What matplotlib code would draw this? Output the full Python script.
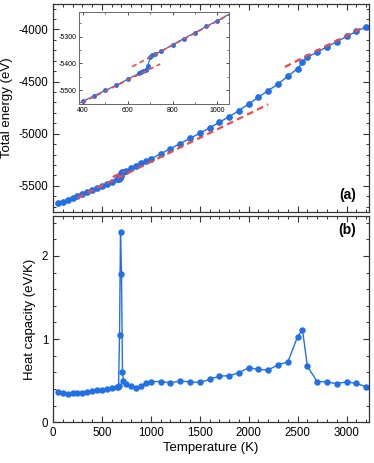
import numpy as np
import matplotlib.pyplot as plt
from matplotlib.ticker import MultipleLocator

plt.rcParams['font.family'] = ['Liberation Sans', 'DejaVu Sans']
plt.rcParams['axes.unicode_minus'] = False

# temperature grid (K)
temps = [50, 100, 150, 200, 250, 300, 350, 400, 450, 500, 550, 600, 650, 660, 670,
         680, 690, 700, 710, 720, 750, 800, 850, 900, 950, 1000, 1100, 1200, 1300,
         1400, 1500, 1600, 1700, 1800, 1900, 2000, 2100, 2200, 2300, 2400, 2500,
         2550, 2600, 2700, 2800, 2900, 3000, 3100, 3200]

# total energy (eV)
energy = [-5666, -5650, -5631, -5613, -5596, -5580, -5562, -5542, -5521, -5501,
          -5481, -5459, -5437, -5432, -5429, -5425, -5409, -5376, -5369, -5365,
          -5354, -5330, -5307, -5285, -5261, -5240, -5193, -5143, -5094, -5044,
          -4995, -4944, -4890, -4836, -4778, -4715, -4649, -4587, -4523, -4448,
          -4376, -4315, -4266, -4217, -4167, -4118, -4068, -4020, -3974]

# heat capacity (eV/K)
heat_cap = [0.366, 0.358, 0.346, 0.350, 0.354, 0.358, 0.366, 0.378, 0.390, 0.386,
            0.398, 0.418, 0.420, 0.430, 0.440, 1.046, 2.29, 1.787, 0.61, 0.50,
            0.46, 0.44, 0.41, 0.44, 0.47, 0.49, 0.49, 0.475, 0.495, 0.487,
            0.479, 0.515, 0.555, 0.56, 0.596, 0.656, 0.636, 0.628, 0.692, 0.724,
            1.03, 1.11, 0.672, 0.49, 0.487, 0.463, 0.487, 0.467, 0.427]

# linear fits (red dashed), main panel
fitA_T = [250, 2200]
fitA_E = [-5614, -4718]
fitB_T = [610, 735]
fitB_E = [-5414, -5360]
fitC_T = [2370, 3180]
fitC_E = [-4360, -3975]

# linear fits in the inset
inA_T = [395, 745]
inA_E = [-5547, -5402]
inB_T = [620, 1052]
inB_E = [-5412, -5218]

blue = '#2170e6'
red = '#f24848'

fig = plt.figure(figsize=(3.74, 4.63), dpi=100)
ax1 = fig.add_axes([0.1417, 0.5421, 0.845, 0.4503])
ax2 = fig.add_axes([0.1417, 0.0879, 0.845, 0.4456])

def style(ax, size):
    ax.tick_params(which='both', direction='in', top=True, right=True, labelsize=size,
                   color='#333333')
    ax.tick_params(which='major', length=4, width=0.8)
    ax.tick_params(which='minor', length=2.2, width=0.7)
    for s in ax.spines.values():
        s.set_color('#333333')
        s.set_linewidth(0.9)

# panel (a)
ax1.plot(fitA_T, fitA_E, '--', color=red, lw=1.6, dashes=(3, 2), zorder=3)
ax1.plot(fitB_T, fitB_E, '--', color=red, lw=1.6, dashes=(3, 2), zorder=3)
ax1.plot(fitC_T, fitC_E, '--', color=red, lw=1.6, dashes=(3, 2), zorder=3)
ax1.plot(temps, energy, '-o', color=blue, lw=1, ms=3.8, zorder=2)
ax1.set_xlim(0, 3230)
ax1.set_ylim(-5750, -3752)
ax1.xaxis.set_major_locator(MultipleLocator(500))
ax1.xaxis.set_minor_locator(MultipleLocator(100))
ax1.yaxis.set_major_locator(MultipleLocator(500))
ax1.yaxis.set_minor_locator(MultipleLocator(100))
ax1.set_xticklabels([])
ax1.set_ylabel('Total energy (eV)', fontsize=9.5, labelpad=4)
style(ax1, 8.3)
ax1.text(0.96, 0.08, '(a)', transform=ax1.transAxes, ha='right', va='center',
         fontsize=10, fontweight='bold')

# inset
axi = fig.add_axes([0.212, 0.7747, 0.4003, 0.1994])
axi.plot(inA_T, inA_E, '--', color=red, lw=1.2, dashes=(3, 2), zorder=3)
axi.plot(inB_T, inB_E, '--', color=red, lw=1.2, dashes=(3, 2), zorder=3)
axi.plot(temps, energy, '-o', color=blue, lw=0.9, ms=2.5, zorder=2)
axi.set_xlim(384, 1052)
axi.set_ylim(-5553, -5207)
axi.xaxis.set_major_locator(MultipleLocator(200))
axi.xaxis.set_minor_locator(MultipleLocator(100))
axi.yaxis.set_major_locator(MultipleLocator(100))
axi.yaxis.set_minor_locator(MultipleLocator(50))
style(axi, 5)
axi.tick_params(which='major', length=2.5, width=0.6, pad=2)
axi.tick_params(which='minor', length=1.5, width=0.5)
for s in axi.spines.values():
    s.set_linewidth(0.7)
    s.set_color('#666666')

# panel (b)
ax2.plot(temps, heat_cap, '-o', color=blue, lw=1, ms=3.6)
ax2.set_xlim(0, 3230)
ax2.set_ylim(0, 2.48)
ax2.xaxis.set_major_locator(MultipleLocator(500))
ax2.xaxis.set_minor_locator(MultipleLocator(100))
ax2.yaxis.set_major_locator(MultipleLocator(1))
ax2.yaxis.set_minor_locator(MultipleLocator(0.2))
ax2.set_xlabel('Temperature (K)', fontsize=9.5, labelpad=2)
ax2.set_ylabel('Heat capacity (eV/K)', fontsize=9.5, labelpad=4)
style(ax2, 8.3)
ax2.text(0.96, 0.93, '(b)', transform=ax2.transAxes, ha='right', va='center',
         fontsize=10, fontweight='bold')

fig.savefig('out.png', dpi=100)
